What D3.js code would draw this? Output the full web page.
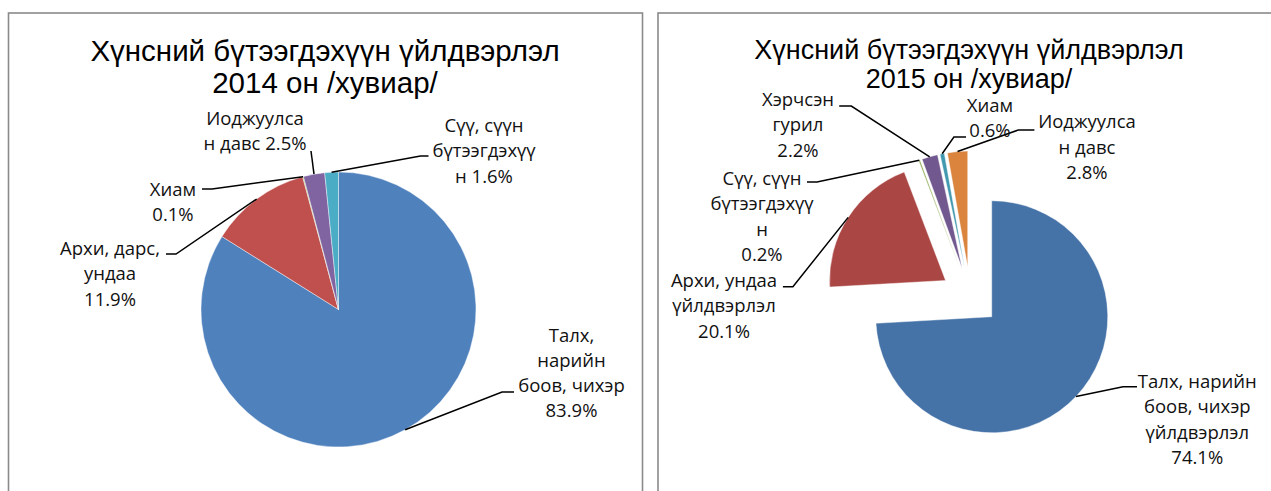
<!DOCTYPE html>
<html><head><meta charset="utf-8">
<script src="https://cdn.jsdelivr.net/npm/d3@7"></script>
<style>
html,body{margin:0;padding:0;background:#fff;overflow:hidden}
svg{display:block}
.title{font-family:"Liberation Sans",Arial,sans-serif;fill:#000}
.lbl{font-family:"Open Sans","Noto Sans",sans-serif;fill:#111}
</style></head><body>
<svg id="c" width="1271" height="491"></svg>
<script>
// ---------- data ----------
const titles2014 = ["Хүнсний бүтээгдэхүүн үйлдвэрлэл", "2014 он /хувиар/"];
const categories2014 = ["Талх, нарийн боов, чихэр", "Архи, дарс, ундаа", "Хиам", "Иоджуулсан давс", "Сүү, сүүн бүтээгдэхүүн"];
const values2014 = [83.9, 11.9, 0.1, 2.5, 1.6];
const labelLines2014 = [["Талх,", "нарийн", "боов, чихэр", "{p}"], ["Архи, дарс,", "ундаа", "{p}"], ["Хиам", "{p}"], ["Иоджуулса", "н давс {p}"], ["Сүү, сүүн", "бүтээгдэхүү", "н {p}"]];

const titles2015 = ["Хүнсний бүтээгдэхүүн үйлдвэрлэл", "2015 он /хувиар/"];
const categories2015 = ["Талх, нарийн боов, чихэр үйлдвэрлэл", "Архи, ундаа үйлдвэрлэл", "Сүү, сүүн бүтээгдэхүүн", "Хэрчсэн гурил", "Хиам", "Иоджуулсан давс"];
const values2015 = [74.1, 20.1, 0.2, 2.2, 0.6, 2.8];
const labelLines2015 = [["Талх, нарийн", "боов, чихэр", "үйлдвэрлэл", "{p}"], ["Архи, ундаа", "үйлдвэрлэл", "{p}"], ["Сүү, сүүн", "бүтээгдэхүү", "н", "{p}"], ["Хэрчсэн", "гурил", "{p}"], ["Хиам", "{p}"], ["Иоджуулса", "н давс", "{p}"]];

// ---------- layout / style ----------
const colors2014 = ["#4F81BD", "#C0504D", "#9BBB59", "#8064A2", "#4BACC6"];
const colors2015 = ["#4572A7", "#AA4643", "#89A54E", "#71588F", "#4198AF", "#DB843D"];
// label anchor [centerX, firstBaseline] relative to pie centre
const labelPos2014 = [[233, 32], [-228.5, -54.5], [-165.5, -113.5], [-83.5, -184.5], [145.5, -177.5]];
const leader2014 = [[[163.5, 82.5], [175.5, 82.5]], [[-162.5, -55.5], [-172.5, -55.5]], [[-126.5, -120.5], [-136.5, -120.5]], [[-27.5, -158.5]], [[82, -153.5], [90, -153.5]]];
const labelPos2015 = [[227, 91.5], [-246.3, -9.5], [-208.3, -111.5], [-172.3, -190.5], [19.7, -184.8], [116.7, -168.2]];
const leader2015 = [[[152.7, 90.2], [166.7, 90.2]], [[-177.4, -9.8], [-187.4, -9.8]], [[-153.3, -114.5], [-163.3, -114.5]], [[-119, -190.5], [-131.1, -190.5]], [[-16.4, -159.5], [-4.3, -159.5]], [[48, -166.5], [64.1, -166.5]]];

const svg = d3.select("#c");
svg.append("rect").attr("width", 1271).attr("height", 491).attr("fill", "#fff");

// panels
svg.append("rect").attr("x", 8.5).attr("y", 13).attr("width", 634).attr("height", 520)
  .attr("fill", "none").attr("stroke", "#8a8a8a").attr("stroke-width", 1.6);
svg.append("rect").attr("x", 658).attr("y", 13).attr("width", 640).attr("height", 520)
  .attr("fill", "none").attr("stroke", "#8a8a8a").attr("stroke-width", 1.6);

const fmt = v => d3.format(".1f")(v) + "%";

function drawPie(opt) {
  const g = svg.append("g");
  // title
  opt.titles.forEach((t, i) => {
    g.append("text").attr("class", "title").attr("x", opt.titleX).attr("y", opt.titleY[i])
      .attr("text-anchor", "middle").style("font-size", opt.titleSize + "px").text(t);
  });
  const pie = d3.pie().sort(null).value(d => d);
  const arcs = pie(opt.values);
  const arc = d3.arc().innerRadius(0).outerRadius(opt.r);
  const edge = d3.arc().innerRadius(opt.r).outerRadius(opt.r);
  const off = d => {
    const a = (d.startAngle + d.endAngle) / 2;
    return [opt.explode * Math.sin(a), -opt.explode * Math.cos(a)];
  };
  const pg = g.append("g").attr("transform", `translate(${opt.cx},${opt.cy})`);
  pg.selectAll("path.slice").data(arcs).join("path").attr("class", "slice")
    .attr("transform", d => `translate(${off(d)})`)
    .attr("d", arc).attr("fill", (d, i) => opt.colors[i])
    .attr("stroke", "#fff").attr("stroke-width", 0.6).attr("stroke-opacity", 0.7)
    .append("title").text((d, i) => opt.categories[i] + ": " + fmt(opt.values[i]));
  // leaders
  const line = d3.line();
  pg.selectAll("path.leader").data(arcs).join("path").attr("class", "leader")
    .attr("d", (d, i) => {
      const e = edge.centroid(d), o = off(d);
      return line([[e[0] + o[0], e[1] + o[1]], ...opt.leaders[i]]);
    })
    .attr("fill", "none").attr("stroke", "#000").attr("stroke-width", 1.5);
  // labels
  arcs.forEach((d, i) => {
    const [lx, ly] = opt.labelPos[i];
    const t = pg.append("text").attr("class", "lbl").attr("text-anchor", "middle")
      .style("font-size", opt.labelSize + "px");
    opt.labelLines[i].forEach((s, k) => {
      t.append("tspan").attr("x", lx).attr("y", ly + k * opt.lineH).text(s.replace("{p}", fmt(opt.values[i])));
    });
  });
}

drawPie({
  titles: titles2014, titleX: 325, titleY: [61, 93], titleSize: 29.5,
  values: values2014, categories: categories2014, colors: colors2014, labelLines: labelLines2014,
  labelPos: labelPos2014, leaders: leader2014,
  cx: 338.5, cy: 309.5, r: 137.5, explode: 0, labelSize: 18.5, lineH: 25.3
});
drawPie({
  titles: titles2015, titleX: 969, titleY: [59, 88], titleSize: 27,
  values: values2015, categories: categories2015, colors: colors2015, labelLines: labelLines2015,
  labelPos: labelPos2015, leaders: leader2015,
  cx: 970.3, cy: 296.5, r: 116, explode: 29.5, labelSize: 18.5, lineH: 25.3
});
</script>
</body></html>
